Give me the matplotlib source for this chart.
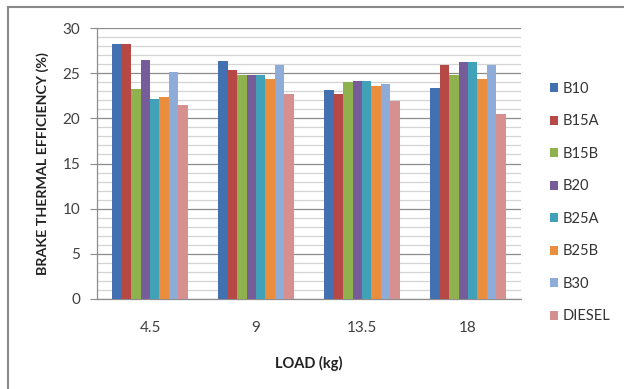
import matplotlib
matplotlib.use("Agg")
import matplotlib.pyplot as plt
import numpy as np
from matplotlib.lines import Line2D

loads = ["4.5", "9", "13.5", "18"]
series_names = ["B10", "B15A", "B15B", "B20", "B25A", "B25B", "B30", "DIESEL"]
B10 = [28.2, 26.4, 23.1, 23.4]
B15A = [28.2, 25.4, 22.7, 25.9]
B15B = [23.3, 24.8, 24.0, 24.8]
B20 = [26.5, 24.8, 24.1, 26.2]
B25A = [22.1, 24.8, 24.1, 26.2]
B25B = [22.4, 24.3, 23.6, 24.3]
B30 = [25.1, 25.9, 23.8, 25.9]
DIESEL = [21.5, 22.7, 21.9, 20.5]
values = [B10, B15A, B15B, B20, B25A, B25B, B30, DIESEL]
colors = ["#4270B0", "#B64845", "#8FB24E", "#765C99", "#40A1B9", "#EA8D3C", "#8FABD8", "#D69090"]

plt.rcParams['font.family'] = ['Lato', 'DejaVu Sans']

fig = plt.figure(figsize=(6.24, 3.89), dpi=100)
W, H = 624, 389
ax = fig.add_axes([97 / W, 1 - 299 / H, (521 - 97) / W, (299 - 28) / H])

x = np.arange(len(loads))
n = len(series_names)
bw = 0.0896
for i, (name, vals, c) in enumerate(zip(series_names, values, colors)):
    off = (i - (n - 1) / 2) * bw
    ax.bar(x + off, vals, width=bw, color=c, label=name, zorder=3, linewidth=0)

ax.set_xlim(-0.5, len(loads) - 0.5)
ax.set_ylim(0, 30)
ax.set_yticks(np.arange(0, 31, 5))
ax.set_yticks(np.arange(0, 31, 1), minor=True)
ax.grid(axis='y', which='major', color='#8c8c8c', linewidth=0.9, zorder=0)
ax.grid(axis='y', which='minor', color='#d4d4d4', linewidth=0.9, zorder=0)
ax.set_xticks(x)
ax.set_xticklabels(loads)
ax.tick_params(axis='x', length=0, pad=16, labelsize=11, colors='#404040')
ax.tick_params(axis='y', which='major', length=5, color='#8c8c8c', labelsize=11, pad=7, labelcolor='#404040')
ax.tick_params(axis='y', which='minor', length=0)
for s in ['top', 'right']:
    ax.spines[s].set_visible(False)
for s in ['left', 'bottom']:
    ax.spines[s].set_color('#8c8c8c')
    ax.spines[s].set_linewidth(0.9)
ax.set_axisbelow(True)

ax.set_xlabel("LOAD (kg)", fontsize=10.5, fontweight='bold', labelpad=15, color='#222222')
ax.set_ylabel("BRAKE THERMAL EFFICIENCY (%)", fontsize=10.3, fontweight='bold', labelpad=10, color='#222222')

leg = ax.legend(loc='upper left', bbox_to_anchor=(544 / W, 1 - 76 / H), bbox_transform=fig.transFigure,
                frameon=False, fontsize=10.5, labelspacing=1.27, handlelength=0.55, handleheight=0.55,
                handletextpad=0.34, borderaxespad=0)
for t in leg.get_texts():
    t.set_color('#333333')

# outer chart border (left and top visible)
fig.add_artist(Line2D([8 / W, 8 / W], [0, 1 - 7 / H], transform=fig.transFigure, color='#8a8a8a', linewidth=1.5))
fig.add_artist(Line2D([8 / W, 1], [1 - 7 / H, 1 - 7 / H], transform=fig.transFigure, color='#8a8a8a', linewidth=1.5))

fig.savefig("out.png", dpi=100)
